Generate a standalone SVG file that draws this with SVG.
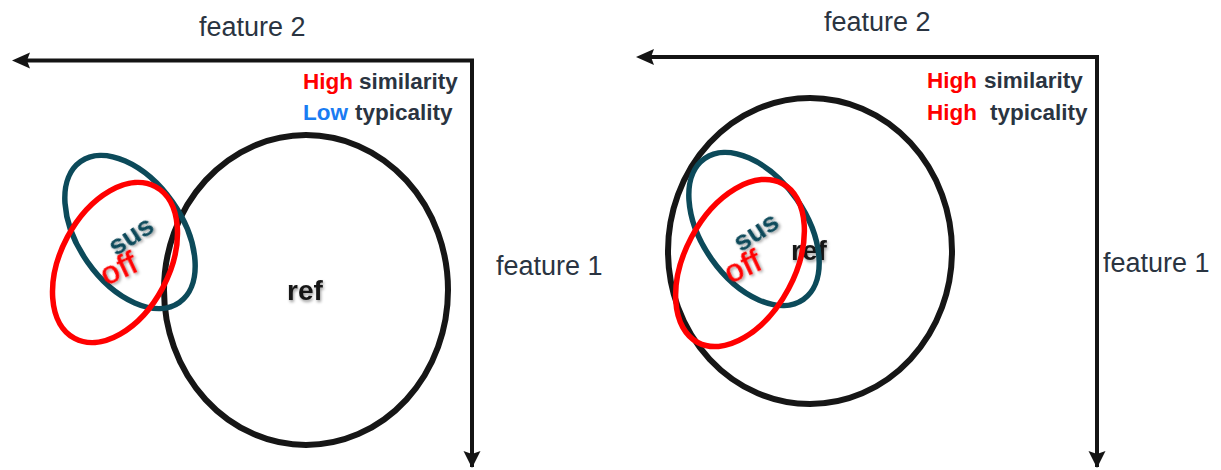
<svg xmlns="http://www.w3.org/2000/svg" width="1221" height="470" viewBox="0 0 1221 470">
  <style>
    .axis { stroke: #141414; stroke-width: 4; fill: none; }
    .head { fill: #141414; }
    .axis-label { font-family: "Liberation Sans", Arial, sans-serif; font-size: 27px; fill: #2a3441; }
    .legend { font-family: "Liberation Sans", Arial, sans-serif; font-size: 22.5px; font-weight: bold; fill: #2a3441; }
    .hi { fill: #ff0000; }
    .lo { fill: #1a7cf2; }
    .ref { fill: none; stroke: #161616; stroke-width: 6; }
    .sus { fill: none; stroke: #0c4a5a; stroke-width: 5.5; }
    .off { fill: none; stroke: #ff0000; stroke-width: 5.5; }
    .tag { font-family: "Liberation Sans", Arial, sans-serif; font-weight: bold; text-anchor: middle; }
    .tag-ref { font-size: 28px; fill: #161616; }
    .tag-sus { font-size: 28px; fill: #0c4a5a; }
    .tag-off { font-size: 32px; fill: #ff0000; font-weight: normal; letter-spacing: 1px; stroke: #ff0000; stroke-width: 0.6; }
  </style>
  <defs>
    <filter id="soft" x="-30%" y="-30%" width="160%" height="160%">
      <feDropShadow dx="1" dy="2" stdDeviation="1.5" flood-color="#000" flood-opacity="0.4"/>
    </filter>
  </defs>

  <!-- axes -->
  <g id="connectors">
    <path class="axis" d="M472 467 V60.5 H24"/>
    <path class="head" d="M12 60.5 L30 52.5 L27 60.5 L30 68.5 Z"/>
    <path class="head" d="M472 468 L463.5 451 L472 454 L480.5 451 Z"/>
    <path class="axis" d="M1097 467 V57 H648"/>
    <path class="head" d="M636 57 L654 49 L651 57 L654 65 Z"/>
    <path class="head" d="M1097 468 L1088.5 451 L1097 454 L1105.5 451 Z"/>
  </g>

  <!-- left panel -->
  <g id="left-axis-labels">
    <text class="axis-label" x="199" y="36">feature 2</text>
    <text class="axis-label" x="496" y="275">feature 1</text>
  </g>
  <g id="left-legend">
    <text class="legend" y="89"><tspan class="hi" x="303">High</tspan><tspan x="359">similarity</tspan></text>
    <text class="legend" y="120"><tspan class="lo" x="303">Low</tspan><tspan x="355">typicality</tspan></text>
  </g>
  <g id="left-ref">
    <ellipse class="ref" cx="306" cy="290" rx="142" ry="155"/>
    <text class="tag tag-ref" x="305" y="300" filter="url(#soft)">ref</text>
  </g>
  <g id="left-sus">
    <ellipse class="sus" cx="130" cy="232" rx="86" ry="52" transform="rotate(55 130 232)"/>
    <text class="tag tag-sus" x="131" y="245" transform="rotate(-33 131 236)" filter="url(#soft)">sus</text>
  </g>
  <g id="left-off">
    <ellipse class="off" cx="115" cy="262.5" rx="86" ry="54" transform="rotate(-62 115 262.5)"/>
    <text class="tag tag-off" x="119" y="279" transform="rotate(-25 119 268)" filter="url(#soft)">off</text>
  </g>

  <!-- right panel -->
  <g id="right-axis-labels">
    <text class="axis-label" x="824" y="31">feature 2</text>
    <text class="axis-label" x="1103" y="272">feature 1</text>
  </g>
  <g id="right-legend">
    <text class="legend" y="88"><tspan class="hi" x="927">High</tspan><tspan x="984">similarity</tspan></text>
    <text class="legend" y="120"><tspan class="hi" x="927">High</tspan><tspan x="990">typicality</tspan></text>
  </g>
  <g id="right-ref">
    <ellipse class="ref" cx="810" cy="251" rx="142" ry="153"/>
    <text class="tag tag-ref" x="809" y="260" filter="url(#soft)">ref</text>
  </g>
  <g id="right-sus">
    <ellipse class="sus" cx="754" cy="229" rx="86" ry="52" transform="rotate(55 754 229)"/>
    <text class="tag tag-sus" x="756" y="241" transform="rotate(-33 756 232)" filter="url(#soft)">sus</text>
  </g>
  <g id="right-off">
    <ellipse class="off" cx="740" cy="263" rx="90" ry="55" transform="rotate(-62 740 263)"/>
    <text class="tag tag-off" x="743" y="277" transform="rotate(-25 743 266)" filter="url(#soft)">off</text>
  </g>
</svg>
